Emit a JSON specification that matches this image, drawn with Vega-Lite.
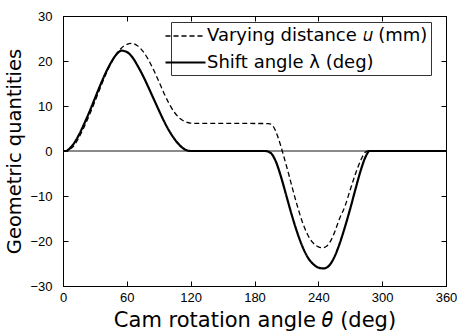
{
  "$schema": "https://vega.github.io/schema/vega-lite/v6.json",
  "width": 383,
  "height": 270,
  "autosize": {"type": "none"},
  "padding": {"left": 63, "top": 16, "right": 11, "bottom": 47},
  "background": "white",
  "data": {
    "values": [
      {"theta": 0, "value": 0, "quantity": "Shift angle λ (deg)"},
      {"theta": 3, "value": 0, "quantity": "Shift angle λ (deg)"},
      {"theta": 6, "value": 0.5, "quantity": "Shift angle λ (deg)"},
      {"theta": 10, "value": 1.6, "quantity": "Shift angle λ (deg)"},
      {"theta": 15, "value": 3.6, "quantity": "Shift angle λ (deg)"},
      {"theta": 20, "value": 6.1, "quantity": "Shift angle λ (deg)"},
      {"theta": 25, "value": 8.8, "quantity": "Shift angle λ (deg)"},
      {"theta": 30, "value": 11.7, "quantity": "Shift angle λ (deg)"},
      {"theta": 35, "value": 14.6, "quantity": "Shift angle λ (deg)"},
      {"theta": 40, "value": 17.3, "quantity": "Shift angle λ (deg)"},
      {"theta": 45, "value": 19.6, "quantity": "Shift angle λ (deg)"},
      {"theta": 50, "value": 21.4, "quantity": "Shift angle λ (deg)"},
      {"theta": 55, "value": 22.3, "quantity": "Shift angle λ (deg)"},
      {"theta": 60, "value": 22.0, "quantity": "Shift angle λ (deg)"},
      {"theta": 65, "value": 20.9, "quantity": "Shift angle λ (deg)"},
      {"theta": 70, "value": 19.0, "quantity": "Shift angle λ (deg)"},
      {"theta": 75, "value": 16.8, "quantity": "Shift angle λ (deg)"},
      {"theta": 80, "value": 14.3, "quantity": "Shift angle λ (deg)"},
      {"theta": 85, "value": 11.7, "quantity": "Shift angle λ (deg)"},
      {"theta": 90, "value": 9.1, "quantity": "Shift angle λ (deg)"},
      {"theta": 95, "value": 6.6, "quantity": "Shift angle λ (deg)"},
      {"theta": 100, "value": 4.4, "quantity": "Shift angle λ (deg)"},
      {"theta": 105, "value": 2.6, "quantity": "Shift angle λ (deg)"},
      {"theta": 110, "value": 1.2, "quantity": "Shift angle λ (deg)"},
      {"theta": 115, "value": 0.3, "quantity": "Shift angle λ (deg)"},
      {"theta": 120, "value": 0, "quantity": "Shift angle λ (deg)"},
      {"theta": 190, "value": 0, "quantity": "Shift angle λ (deg)"},
      {"theta": 195, "value": -0.4, "quantity": "Shift angle λ (deg)"},
      {"theta": 200, "value": -2.3, "quantity": "Shift angle λ (deg)"},
      {"theta": 205, "value": -5.8, "quantity": "Shift angle λ (deg)"},
      {"theta": 210, "value": -10.0, "quantity": "Shift angle λ (deg)"},
      {"theta": 215, "value": -14.2, "quantity": "Shift angle λ (deg)"},
      {"theta": 220, "value": -18.0, "quantity": "Shift angle λ (deg)"},
      {"theta": 225, "value": -21.2, "quantity": "Shift angle λ (deg)"},
      {"theta": 230, "value": -23.6, "quantity": "Shift angle λ (deg)"},
      {"theta": 235, "value": -25.1, "quantity": "Shift angle λ (deg)"},
      {"theta": 240, "value": -25.9, "quantity": "Shift angle λ (deg)"},
      {"theta": 245, "value": -26.1, "quantity": "Shift angle λ (deg)"},
      {"theta": 250, "value": -25.5, "quantity": "Shift angle λ (deg)"},
      {"theta": 255, "value": -23.6, "quantity": "Shift angle λ (deg)"},
      {"theta": 260, "value": -20.6, "quantity": "Shift angle λ (deg)"},
      {"theta": 265, "value": -16.9, "quantity": "Shift angle λ (deg)"},
      {"theta": 270, "value": -12.8, "quantity": "Shift angle λ (deg)"},
      {"theta": 275, "value": -8.4, "quantity": "Shift angle λ (deg)"},
      {"theta": 280, "value": -4.2, "quantity": "Shift angle λ (deg)"},
      {"theta": 285, "value": -1.0, "quantity": "Shift angle λ (deg)"},
      {"theta": 288, "value": 0, "quantity": "Shift angle λ (deg)"},
      {"theta": 360, "value": 0, "quantity": "Shift angle λ (deg)"},
      {"theta": 0, "value": 0, "quantity": "Varying distance 𝑢 (mm)"},
      {"theta": 4, "value": 0, "quantity": "Varying distance 𝑢 (mm)"},
      {"theta": 6, "value": 0.3, "quantity": "Varying distance 𝑢 (mm)"},
      {"theta": 10, "value": 1.1, "quantity": "Varying distance 𝑢 (mm)"},
      {"theta": 15, "value": 3.0, "quantity": "Varying distance 𝑢 (mm)"},
      {"theta": 20, "value": 5.4, "quantity": "Varying distance 𝑢 (mm)"},
      {"theta": 25, "value": 8.1, "quantity": "Varying distance 𝑢 (mm)"},
      {"theta": 30, "value": 11.0, "quantity": "Varying distance 𝑢 (mm)"},
      {"theta": 35, "value": 14.0, "quantity": "Varying distance 𝑢 (mm)"},
      {"theta": 40, "value": 16.9, "quantity": "Varying distance 𝑢 (mm)"},
      {"theta": 45, "value": 19.4, "quantity": "Varying distance 𝑢 (mm)"},
      {"theta": 50, "value": 21.5, "quantity": "Varying distance 𝑢 (mm)"},
      {"theta": 55, "value": 22.9, "quantity": "Varying distance 𝑢 (mm)"},
      {"theta": 60, "value": 23.7, "quantity": "Varying distance 𝑢 (mm)"},
      {"theta": 65, "value": 23.9, "quantity": "Varying distance 𝑢 (mm)"},
      {"theta": 70, "value": 23.4, "quantity": "Varying distance 𝑢 (mm)"},
      {"theta": 75, "value": 22.2, "quantity": "Varying distance 𝑢 (mm)"},
      {"theta": 80, "value": 20.4, "quantity": "Varying distance 𝑢 (mm)"},
      {"theta": 85, "value": 18.1, "quantity": "Varying distance 𝑢 (mm)"},
      {"theta": 90, "value": 15.5, "quantity": "Varying distance 𝑢 (mm)"},
      {"theta": 95, "value": 12.8, "quantity": "Varying distance 𝑢 (mm)"},
      {"theta": 100, "value": 10.4, "quantity": "Varying distance 𝑢 (mm)"},
      {"theta": 105, "value": 8.5, "quantity": "Varying distance 𝑢 (mm)"},
      {"theta": 110, "value": 7.2, "quantity": "Varying distance 𝑢 (mm)"},
      {"theta": 115, "value": 6.5, "quantity": "Varying distance 𝑢 (mm)"},
      {"theta": 120, "value": 6.2, "quantity": "Varying distance 𝑢 (mm)"},
      {"theta": 125, "value": 6.15, "quantity": "Varying distance 𝑢 (mm)"},
      {"theta": 193, "value": 6.1, "quantity": "Varying distance 𝑢 (mm)"},
      {"theta": 196, "value": 5.9, "quantity": "Varying distance 𝑢 (mm)"},
      {"theta": 199, "value": 4.9, "quantity": "Varying distance 𝑢 (mm)"},
      {"theta": 202, "value": 3.1, "quantity": "Varying distance 𝑢 (mm)"},
      {"theta": 205, "value": 0.9, "quantity": "Varying distance 𝑢 (mm)"},
      {"theta": 208, "value": -1.6, "quantity": "Varying distance 𝑢 (mm)"},
      {"theta": 212, "value": -5.0, "quantity": "Varying distance 𝑢 (mm)"},
      {"theta": 216, "value": -8.6, "quantity": "Varying distance 𝑢 (mm)"},
      {"theta": 220, "value": -12.0, "quantity": "Varying distance 𝑢 (mm)"},
      {"theta": 225, "value": -15.8, "quantity": "Varying distance 𝑢 (mm)"},
      {"theta": 230, "value": -18.6, "quantity": "Varying distance 𝑢 (mm)"},
      {"theta": 235, "value": -20.4, "quantity": "Varying distance 𝑢 (mm)"},
      {"theta": 240, "value": -21.3, "quantity": "Varying distance 𝑢 (mm)"},
      {"theta": 244, "value": -21.5, "quantity": "Varying distance 𝑢 (mm)"},
      {"theta": 248, "value": -21.1, "quantity": "Varying distance 𝑢 (mm)"},
      {"theta": 252, "value": -19.8, "quantity": "Varying distance 𝑢 (mm)"},
      {"theta": 256, "value": -17.6, "quantity": "Varying distance 𝑢 (mm)"},
      {"theta": 260, "value": -15.0, "quantity": "Varying distance 𝑢 (mm)"},
      {"theta": 265, "value": -12.3, "quantity": "Varying distance 𝑢 (mm)"},
      {"theta": 270, "value": -8.6, "quantity": "Varying distance 𝑢 (mm)"},
      {"theta": 275, "value": -5.0, "quantity": "Varying distance 𝑢 (mm)"},
      {"theta": 280, "value": -2.0, "quantity": "Varying distance 𝑢 (mm)"},
      {"theta": 284, "value": -0.3, "quantity": "Varying distance 𝑢 (mm)"},
      {"theta": 287, "value": 0, "quantity": "Varying distance 𝑢 (mm)"},
      {"theta": 360, "value": 0, "quantity": "Varying distance 𝑢 (mm)"}
    ]
  },
  "layer": [
    {
      "mark": {"type": "rule", "color": "#8a8a8a", "strokeWidth": 1},
      "encoding": {
        "y": {"datum": 0, "type": "quantitative", "scale": {"domain": [-30, 30], "nice": false}, "axis": null}
      }
    },
    {
      "mark": {"type": "line", "color": "black", "interpolate": "monotone"},
      "encoding": {
        "x": {
          "field": "theta", "type": "quantitative",
          "scale": {"domain": [0, 360], "nice": false},
          "axis": {
            "orient": "bottom", "values": [0, 60, 120, 180, 240, 300, 360],
            "title": "Cam rotation angle 𝜃 (deg)", "grid": false
          }
        },
        "y": {
          "field": "value", "type": "quantitative",
          "scale": {"domain": [-30, 30], "nice": false},
          "axis": {
            "orient": "left", "values": [-30, -20, -10, 0, 10, 20, 30],
            "title": "Geometric quantities", "grid": false
          }
        },
        "strokeDash": {
          "field": "quantity", "type": "nominal",
          "scale": {
            "domain": ["Varying distance 𝑢 (mm)", "Shift angle λ (deg)"],
            "range": [[5, 3], [1, 0]]
          },
          "legend": {
            "title": null, "orient": "none", "legendX": 108, "legendY": 6,
            "direction": "vertical"
          }
        },
        "strokeWidth": {
          "field": "quantity", "type": "nominal",
          "scale": {
            "domain": ["Varying distance 𝑢 (mm)", "Shift angle λ (deg)"],
            "range": [1.3, 2.2]
          },
          "legend": {
            "title": null, "orient": "none", "legendX": 108, "legendY": 6,
            "direction": "vertical"
          }
        }
      }
    },
    {
      "mark": {"type": "line", "strokeOpacity": 0},
      "encoding": {
        "x": {
          "field": "theta", "type": "quantitative",
          "scale": {"domain": [0, 360], "nice": false},
          "axis": {"orient": "top", "values": [0, 60, 120, 180, 240, 300, 360], "labels": false, "title": null, "grid": false}
        },
        "y": {
          "field": "value", "type": "quantitative",
          "scale": {"domain": [-30, 30], "nice": false},
          "axis": {"orient": "right", "values": [-30, -20, -10, 0, 10, 20, 30], "labels": false, "title": null, "grid": false}
        },
        "detail": {"field": "quantity", "type": "nominal"}
      }
    }
  ],
  "resolve": {"axis": {"x": "independent", "y": "independent"}},
  "config": {
    "view": {"stroke": "black", "strokeWidth": 1},
    "axis": {
      "domainColor": "black", "domainWidth": 1,
      "tickColor": "black", "tickSize": -5, "tickWidth": 1,
      "labelFont": "Liberation Sans", "labelFontSize": 13, "labelColor": "black",
      "titleFont": "DejaVu Sans", "titleFontWeight": "normal", "titleColor": "black"
    },
    "axisBottom": {"titleFontSize": 21, "titlePadding": 5, "labelPadding": 10.5, "labelFlush": false},
    "axisLeft": {"titleFontSize": 19.5, "titlePadding": 5, "labelPadding": 16},
    "legend": {
      "fillColor": "white", "strokeColor": "#333", "padding": 3, "cornerRadius": 0,
      "symbolType": "M-2,0H2", "symbolSize": 400, "symbolStrokeColor": "black",
      "labelFont": "DejaVu Sans", "labelFontSize": 18, "labelColor": "black",
      "labelOffset": 10, "rowPadding": 6, "labelLimit": 400
    }
  }
}
